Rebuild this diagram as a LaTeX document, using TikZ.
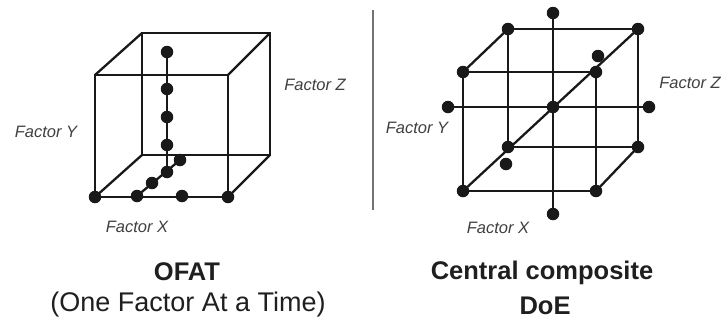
\documentclass[tikz,border=0pt]{standalone}
\usepackage{fontspec}
\setmainfont{Liberation Sans}
\begin{document}
\begin{tikzpicture}[x=1pt,y=-1pt,
  edge/.style={line width=2.3pt,draw=black!90},
  dot/.style={circle,fill=black!90,inner sep=0pt,minimum size=12.5pt},
  axlabel/.style={text=black!75,font=\fontsize{16.5}{19}\selectfont\itshape,inner sep=0pt},
  title/.style={text=black!88,font=\fontsize{25.5}{30}\selectfont\bfseries,inner sep=0pt},
  subtitle/.style={text=black!88,font=\fontsize{27}{30}\selectfont,inner sep=0pt}]
\useasboundingbox (0,0) rectangle (722,325);
% ---------- left cube (OFAT) ----------
\coordinate (lFTL) at (95,75);
\coordinate (lFTR) at (228,75);
\coordinate (lFBL) at (95,197);
\coordinate (lFBR) at (228,197);
\coordinate (lBTL) at (142,33);
\coordinate (lBTR) at (270,33);
\coordinate (lBBL) at (142,155);
\coordinate (lBBR) at (270,155);
\draw[edge] (lFTL) -- (lFTR) -- (lFBR) -- (lFBL) -- cycle;
\draw[edge] (lBTL) -- (lBTR) -- (lBBR) -- (lBBL) -- cycle;
\draw[edge] (lFTL) -- (lBTL);
\draw[edge] (lFTR) -- (lBTR);
\draw[edge] (lFBR) -- (lBBR);
\draw[edge] (lFBL) -- (lBBL);
% dots
\node[dot] (x0) at (lFBL) {};
\node[dot] (x1) at (137,196) {};
\node[dot] (x2) at (182,196) {};
\node[dot] (x3) at (lFBR) {};
\node[dot] (z1) at (152,183) {};
\node[dot] (z2) at (167,172) {};
\node[dot] (z3) at (180,160) {};
\node[dot] (y1) at (167,145) {};
\node[dot] (y2) at (167,117) {};
\node[dot] (y3) at (167,89) {};
\node[dot] (y4) at (167,52) {};
\draw[edge] (x1.center) -- (z3.center);
\draw[edge] (z2.center) -- (y4.center);
\node[axlabel] (lY) at (46,132) {Factor Y};
\node[axlabel] (lZ) at (315,85) {Factor Z};
\node[axlabel] (lX) at (137,227) {Factor X};
% ---------- separator ----------
\coordinate (sepT) at (373,10);
\coordinate (sepB) at (373,210);
\draw[line width=1.2pt,black!55] (sepT) -- (sepB);
% ---------- right cube (CCD) ----------
\node[dot] (rFTL) at (463,72) {};
\node[dot] (rFTR) at (596,72) {};
\node[dot] (rFBL) at (463,191) {};
\node[dot] (rFBR) at (596,191) {};
\node[dot] (rBTL) at (508,29) {};
\node[dot] (rBTR) at (638,29) {};
\node[dot] (rBBL) at (508,147) {};
\node[dot] (rBBR) at (638,147) {};
\node[dot] (rC) at (553,107) {};
\node[dot] (rYt) at (553,13) {};
\node[dot] (rYb) at (553,214) {};
\node[dot] (rXl) at (448,107) {};
\node[dot] (rXr) at (649,107) {};
\node[dot] (rZb) at (598,56) {};
\node[dot] (rZf) at (506,164) {};
\draw[edge] (rFTL.center) -- (rFTR.center) -- (rFBR.center) -- (rFBL.center) -- cycle;
\draw[edge] (rBTL.center) -- (rBTR.center) -- (rBBR.center) -- (rBBL.center) -- cycle;
\draw[edge] (rFTL.center) -- (rBTL.center);
\draw[edge] (rFBR.center) -- (rBBR.center);
\draw[edge] (rFBL.center) -- (rBTR.center);
\draw[edge] (rYt.center) -- (rYb.center);
\draw[edge] (rXl.center) -- (rXr.center);
\node[axlabel] (rY) at (417,128) {Factor Y};
\node[axlabel] (rZ) at (690,83) {Factor Z};
\node[axlabel] (rX) at (498,228) {Factor X};
% ---------- titles ----------
\node[title] (t1) at (187,272) {OFAT};
\node[subtitle] (t2) at (188,305) {(One Factor At a Time)};
\node[title] (t3) at (542,273) {Central composite};
\node[title] (t4) at (545,306) {DoE};
\end{tikzpicture}
\end{document}
